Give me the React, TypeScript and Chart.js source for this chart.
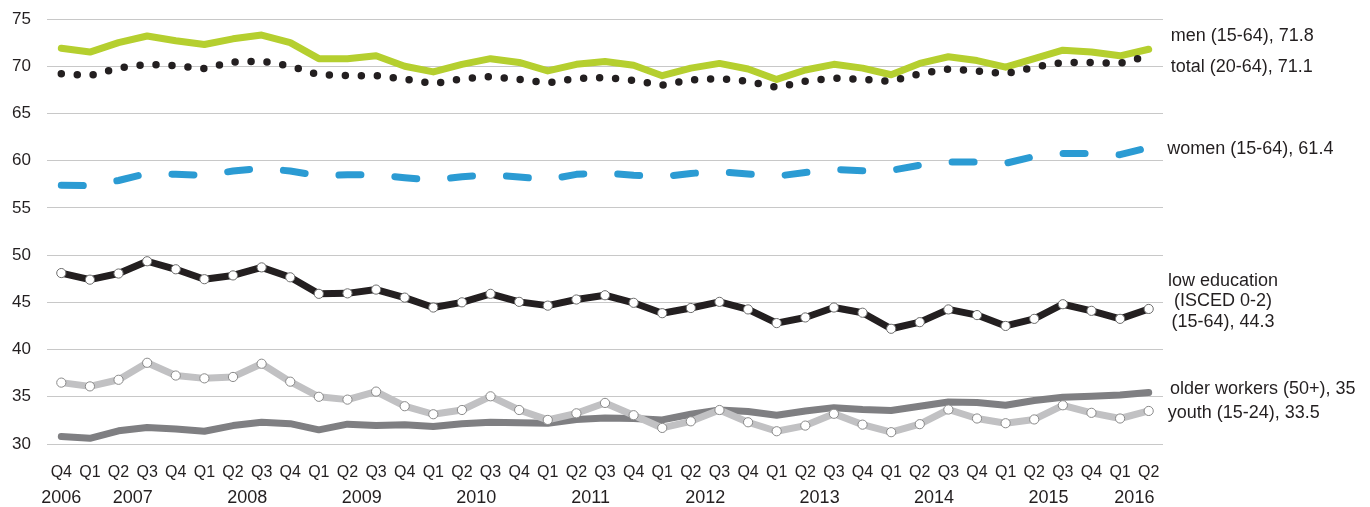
import React, { useEffect, useRef } from 'react';
import { Chart, registerables } from 'chart.js';

Chart.register(...registerables);

const quarters = ['Q4','Q1','Q2','Q3','Q4','Q1','Q2','Q3','Q4','Q1','Q2','Q3','Q4','Q1','Q2','Q3','Q4','Q1','Q2','Q3','Q4','Q1','Q2','Q3','Q4','Q1','Q2','Q3','Q4','Q1','Q2','Q3','Q4','Q1','Q2','Q3','Q4','Q1','Q2'];
const years = ['2006','2007','2007','2007','2007','2008','2008','2008','2008','2009','2009','2009','2009','2010','2010','2010','2010','2011','2011','2011','2011','2012','2012','2012','2012','2013','2013','2013','2013','2014','2014','2014','2014','2015','2015','2015','2015','2016','2016'];

const men = [71.9,71.5,72.5,73.2,72.7,72.3,72.9,73.3,72.5,70.8,70.8,71.1,70.0,69.4,70.2,70.8,70.4,69.5,70.2,70.5,70.1,69.0,69.8,70.3,69.7,68.6,69.6,70.2,69.8,69.1,70.3,71.0,70.6,69.9,70.8,71.7,71.5,71.1,71.8];
const total = [69.2,69.0,69.8,70.2,70.05,69.75,70.45,70.55,70.0,69.1,69.0,69.0,68.65,68.15,68.65,68.9,68.6,68.25,68.7,68.8,68.5,68.0,68.55,68.7,68.4,67.75,68.4,68.75,68.6,68.4,69.2,69.7,69.5,69.2,69.9,70.4,70.4,70.3,71.1];
const women = [57.4,57.35,57.9,58.65,58.55,58.45,58.9,59.2,58.9,58.4,58.5,58.5,58.2,57.95,58.3,58.5,58.27,58.0,58.55,58.7,58.45,58.3,58.65,58.84,58.6,58.35,58.75,59.08,58.93,58.97,59.52,59.87,59.87,59.72,60.45,60.75,60.75,60.63,61.4];
const lowEducation = [48.1,47.4,48.05,49.35,48.5,47.45,47.85,48.7,47.65,45.9,45.95,46.35,45.5,44.45,45.0,45.9,45.05,44.65,45.3,45.75,44.95,43.85,44.4,45.05,44.25,42.8,43.4,44.45,43.9,42.2,42.9,44.25,43.65,42.5,43.25,44.8,44.1,43.25,44.3];
const olderWorkers = [30.8,30.6,31.4,31.75,31.6,31.35,31.95,32.3,32.15,31.5,32.1,31.95,32.05,31.85,32.15,32.3,32.25,32.2,32.6,32.75,32.7,32.55,33.15,33.6,33.45,33.05,33.5,33.85,33.65,33.55,34.0,34.45,34.4,34.1,34.6,34.95,35.05,35.2,35.45];
const youth = [36.5,36.1,36.8,38.6,37.25,36.95,37.1,38.5,36.6,35.0,34.7,35.55,34.0,33.15,33.6,35.05,33.6,32.55,33.25,34.35,33.05,31.7,32.4,33.6,32.3,31.35,31.95,33.2,32.05,31.25,32.1,33.65,32.7,32.2,32.6,34.1,33.3,32.7,33.5];

const seriesNames = ['men (15-64), 71.8', 'total (20-64), 71.1', 'women (15-64), 61.4', 'low education\n(ISCED 0-2)\n(15-64), 44.3', 'older workers (50+), 35', 'youth (15-24), 33.5'];

const FONT = '"Liberation Sans", Arial, Helvetica, sans-serif';
const TEXT = '#231f20';

// label placement (style): dx from chart right edge, dy baseline offset from last point, alignment
const labelStyle = [
  { dx: 7.7, dy: -8.5, align: 'left' },
  { dx: 7.7, dy: 16.5, align: 'left' },
  { dx: 4.3, dy: 6.5, align: 'left' },
  { dx: 60, dy: -23, align: 'center' },
  { dx: 7, dy: 1.6, align: 'left' },
  { dx: 4.7, dy: 7.3, align: 'left' },
];

export default function App() {
  const ref = useRef<HTMLCanvasElement>(null);

  useEffect(() => {
    if (!ref.current) return;

    const endLabels = {
      id: 'endLabels',
      afterDraw(chart: any) {
        const { ctx, chartArea, scales } = chart;
        const xs = scales.x;
        const ys = scales.y;
        ctx.save();
        ctx.fillStyle = TEXT;
        // year labels centred under their quarters
        ctx.font = `18px ${FONT}`;
        ctx.textAlign = 'center';
        ctx.textBaseline = 'alphabetic';
        let start = 0;
        for (let i = 1; i <= years.length; i++) {
          if (i === years.length || years[i] !== years[start]) {
            const xc = (xs.getPixelForValue(start) + xs.getPixelForValue(i - 1)) / 2;
            ctx.fillText(years[start], xc, chartArea.bottom + 59);
            start = i;
          }
        }
        // series end labels
        chart.data.datasets.forEach((ds: any, di: number) => {
          const st = labelStyle[di];
          const last = ds.data[ds.data.length - 1];
          const yb = ys.getPixelForValue(last) + st.dy;
          ctx.textAlign = st.align;
          const lines = seriesNames[di].split('\n');
          lines.forEach((ln: string, li: number) => {
            ctx.fillText(ln, chartArea.right + st.dx, yb + li * 20.3);
          });
        });
        ctx.restore();
      },
    };

    const chart = new Chart(ref.current, {
      type: 'line',
      data: {
        labels: quarters,
        datasets: [
          {
            label: 'men', data: men, borderColor: '#b5cf2f', borderWidth: 7,
            pointRadius: 0, pointHoverRadius: 0, tension: 0, order: 2,
            borderJoinStyle: 'round', borderCapStyle: 'round',
          },
          {
            label: 'total', data: total, borderColor: '#231f20', borderWidth: 7.5,
            borderDash: [0, 16], borderCapStyle: 'round', borderJoinStyle: 'round',
            pointRadius: 0, pointHoverRadius: 0, tension: 0, order: 1,
          },
          {
            label: 'women', data: women, borderColor: '#2b9bd3', borderWidth: 7,
            borderDash: [22, 34], borderCapStyle: 'round', borderJoinStyle: 'round',
            pointRadius: 0, pointHoverRadius: 0, tension: 0, order: 3,
          },
          {
            label: 'low education', data: lowEducation, borderColor: '#231f20', borderWidth: 7,
            borderJoinStyle: 'round',
            pointRadius: 4.6, pointHoverRadius: 4.6, pointBackgroundColor: '#ffffff',
            pointBorderColor: '#6d6d6d', pointBorderWidth: 1, tension: 0, order: 4,
          },
          {
            label: 'older workers', data: olderWorkers, borderColor: '#7f7f82', borderWidth: 7,
            borderJoinStyle: 'round', borderCapStyle: 'round',
            pointRadius: 0, pointHoverRadius: 0, tension: 0, order: 6,
          },
          {
            label: 'youth', data: youth, borderColor: '#c1c1c3', borderWidth: 7,
            borderJoinStyle: 'round',
            pointRadius: 4.6, pointHoverRadius: 4.6, pointBackgroundColor: '#ffffff',
            pointBorderColor: '#8a8a8a', pointBorderWidth: 1, tension: 0, order: 5,
          },
        ],
      },
      options: {
        animation: false,
        responsive: true,
        maintainAspectRatio: false,
        events: [],
        layout: { padding: { top: 19, right: 207, bottom: 0, left: 0 } },
        plugins: {
          legend: { display: false },
          tooltip: { enabled: false },
        },
        scales: {
          x: {
            type: 'category',
            offset: true,
            grid: { display: false, drawTicks: false },
            border: { display: false },
            ticks: {
              color: TEXT,
              font: { family: FONT, size: 16 },
              padding: 19,
              maxRotation: 0,
              autoSkip: false,
            },
            afterFit: (axis: any) => {
              axis.height = 63;
              axis.paddingLeft = 0;
              axis.paddingRight = 0;
            },
          },
          y: {
            min: 30,
            max: 75,
            grid: { color: '#c8c8c8', lineWidth: 1, drawTicks: false },
            border: { display: false },
            ticks: {
              stepSize: 5,
              color: TEXT,
              font: { family: FONT, size: 17 },
              padding: 16,
            },
            afterFit: (axis: any) => {
              axis.width = 47;
              axis.paddingTop = 0;
              axis.paddingBottom = 0;
            },
          },
        },
      },
      plugins: [endLabels],
    } as any);

    return () => chart.destroy();
  }, []);

  return (
    <div style={{ position: 'absolute', left: 0, top: 0, width: 1370, height: 507, background: '#ffffff' }}>
      <canvas ref={ref} />
    </div>
  );
}
